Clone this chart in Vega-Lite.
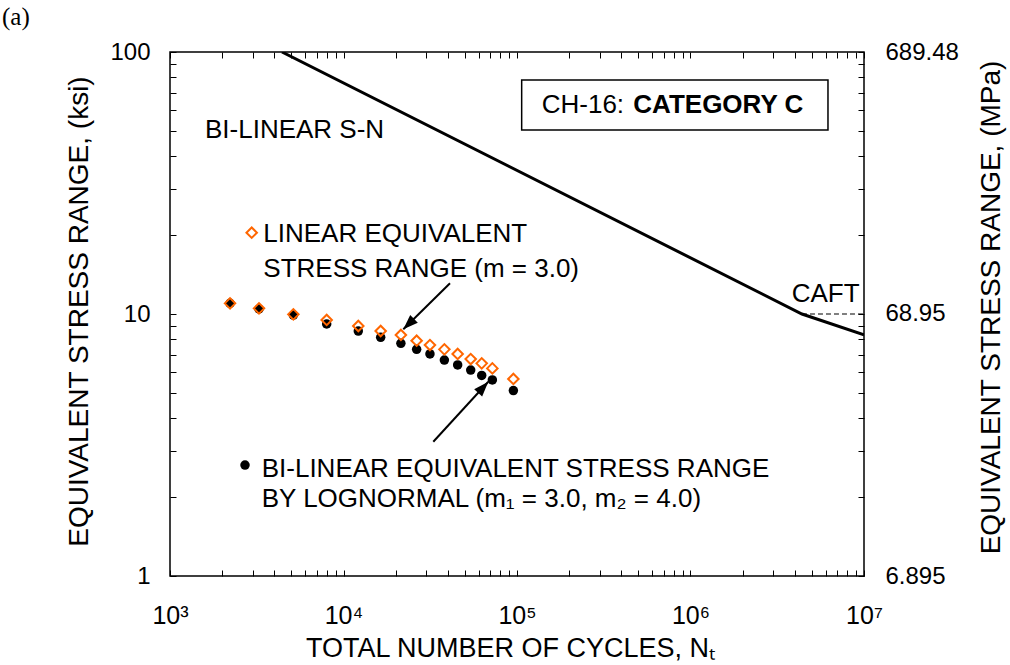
{
  "$schema": "https://vega.github.io/schema/vega-lite/v6.json",
  "autosize": {"type": "none"},
  "width": 694,
  "height": 524,
  "padding": {"left": 170, "top": 52, "right": 146, "bottom": 89},
  "background": "white",
  "config": {
    "view": {"stroke": "black", "strokeWidth": 1.5},
    "font": "Liberation Sans",
    "axis": {"grid": false, "domain": false, "tickColor": "black", "tickWidth": 1, "labelColor": "black", "titleColor": "black", "labelFont": "Liberation Sans", "titleFont": "Liberation Sans", "titleFontWeight": "normal", "labelFontSize": 24, "titleFontSize": 28}
  },
  "datasets": {
    "sn": [{"N": 4420, "S": 100}, {"N": 4390000, "S": 10}, {"N": 10000000, "S": 8.32}],
    "caft": [{"N": 4390000, "S": 10}, {"N": 10000000, "S": 10}],
    "linear": [
      {"N": 2218, "S": 10.98}, {"N": 3258, "S": 10.51}, {"N": 5140, "S": 9.97}, {"N": 8000, "S": 9.49},
      {"N": 12170, "S": 9.0}, {"N": 16380, "S": 8.61}, {"N": 21420, "S": 8.32}, {"N": 26400, "S": 7.91},
      {"N": 31500, "S": 7.61}, {"N": 38140, "S": 7.33}, {"N": 45500, "S": 7.04}, {"N": 54100, "S": 6.73},
      {"N": 62600, "S": 6.48}, {"N": 72100, "S": 6.2}, {"N": 95300, "S": 5.65}
    ],
    "bilinear": [
      {"N": 2218, "S": 10.98}, {"N": 3258, "S": 10.45}, {"N": 5140, "S": 9.91}, {"N": 8000, "S": 9.16},
      {"N": 12170, "S": 8.61}, {"N": 16380, "S": 8.15}, {"N": 21420, "S": 7.73}, {"N": 26400, "S": 7.33},
      {"N": 31500, "S": 7.04}, {"N": 38140, "S": 6.67}, {"N": 45500, "S": 6.39}, {"N": 54100, "S": 6.11},
      {"N": 62600, "S": 5.83}, {"N": 72100, "S": 5.6}, {"N": 95300, "S": 5.1}
    ],
    "notes": [
      {"N": 1591, "S": 50.4, "label": "BI-LINEAR S-N"},
      {"N": 3450, "S": 20.2, "label": "LINEAR EQUIVALENT"},
      {"N": 3450, "S": 14.85, "label": "STRESS RANGE (m = 3.0)"},
      {"N": 3377, "S": 2.561, "label": "BI-LINEAR EQUIVALENT STRESS RANGE"},
      {"N": 3377, "S": 1.967, "label": "BY LOGNORMAL (m₁ = 3.0, m₂ = 4.0)"},
      {"N": 3830000, "S": 11.96, "label": "CAFT"},
      {"N": 138800, "S": 62.8, "label": "CH-16:"}
    ],
    "bold": [{"N": 468000, "S": 62.8, "label": "CATEGORY C"}],
    "tag": [{"N": 107.6, "S": 136, "label": "(a)"}],
    "box": [{"N": 106400, "N2": 6200000, "S": 78.2, "S2": 50.4}],
    "arrows": [
      {"N": 41100, "S": 13.1, "N2": 22120, "S2": 8.74},
      {"N": 32930, "S": 3.255, "N2": 68320, "S2": 5.515}
    ],
    "key_linear": [{"N": 2957, "S": 20.43}],
    "key_bilinear": [{"N": 2706, "S": 2.652}],
    "head1": [{"N": 22120, "S": 8.74}],
    "head2": [{"N": 68320, "S": 5.515}],
    "mpa": [{"N": 1000, "MPa": 6.895}, {"N": 10000000, "MPa": 689.48}]
  },
  "layer": [
    {
      "encoding": {
        "x": {
          "field": "N", "type": "quantitative",
          "scale": {"type": "log", "domain": [1000, 10000000], "nice": false},
          "axis": {
            "orient": "bottom",
            "title": "TOTAL NUMBER OF CYCLES, Nₜ",
            "titleFontSize": 27,
            "titleX": 340,
            "titleY": 72,
            "titleAlign": "center",
            "titleBaseline": "middle",
            "values": [1000, 2000, 3000, 4000, 5000, 6000, 7000, 8000, 9000, 10000, 20000, 30000, 40000, 50000, 60000, 70000, 80000, 90000, 100000, 200000, 300000, 400000, 500000, 600000, 700000, 800000, 900000, 1000000, 2000000, 3000000, 4000000, 5000000, 6000000, 7000000, 8000000, 9000000, 10000000],
            "labelExpr": "datum.value == 1000 ? '10³' : datum.value == 10000 ? '10⁴' : datum.value == 100000 ? '10⁵' : datum.value == 1000000 ? '10⁶' : datum.value == 10000000 ? '10⁷' : ''",
            "labelFontSize": 25,
            "tickSize": -6,
            "labelPadding": 33,
            "labelFlush": false,
            "labelOverlap": false
          }
        },
        "y": {
          "field": "S", "type": "quantitative",
          "scale": {"type": "log", "domain": [1, 100], "nice": false},
          "axis": {
            "orient": "left",
            "title": "EQUIVALENT STRESS RANGE, (ksi)",
            "titleX": -91,
            "titleY": 259,
            "titleAlign": "center",
            "titleBaseline": "middle",
            "titleAngle": 270,
            "values": [1, 2, 3, 4, 5, 6, 7, 8, 9, 10, 20, 30, 40, 50, 60, 70, 80, 90, 100],
            "labelExpr": "datum.value == 1 ? '1' : datum.value == 10 ? '10' : datum.value == 100 ? '100' : ''",
            "tickSize": -6,
            "labelPadding": 26,
            "labelFlush": false,
            "labelOverlap": false
          }
        }
      },
      "layer": [
        {"data": {"name": "box"}, "mark": {"type": "rect", "fill": "white", "stroke": "black", "strokeWidth": 1.5}, "encoding": {"x2": {"field": "N2"}, "y2": {"field": "S2"}}},
        {"data": {"name": "sn"}, "mark": {"type": "line", "color": "black", "strokeWidth": 3, "clip": true}, "encoding": {}},
        {"data": {"name": "caft"}, "mark": {"type": "line", "color": "black", "strokeWidth": 1.2, "strokeDash": [5, 3]}, "encoding": {}},
        {"data": {"name": "bilinear"}, "mark": {"type": "point", "shape": "circle", "filled": true, "color": "black", "size": 90, "opacity": 1}},
        {"data": {"name": "linear"}, "mark": {"type": "point", "shape": "diamond", "filled": false, "color": "#ff6600", "strokeWidth": 2, "size": 110, "opacity": 1}},
        {"data": {"name": "key_bilinear"}, "mark": {"type": "point", "shape": "circle", "filled": true, "color": "black", "size": 90, "opacity": 1}},
        {"data": {"name": "key_linear"}, "mark": {"type": "point", "shape": "diamond", "filled": false, "color": "#ff6600", "strokeWidth": 2, "size": 110, "opacity": 1}},
        {"data": {"name": "arrows"}, "mark": {"type": "rule", "color": "black", "strokeWidth": 2}, "encoding": {"x2": {"field": "N2"}, "y2": {"field": "S2"}}},
        {"data": {"name": "head1"}, "mark": {"type": "point", "shape": "M0,0L0.36,1L-0.36,1Z", "filled": true, "color": "black", "size": 900, "angle": 225.4, "opacity": 1, "strokeWidth": 0}},
        {"data": {"name": "head2"}, "mark": {"type": "point", "shape": "M0,0L0.36,1L-0.36,1Z", "filled": true, "color": "black", "size": 900, "angle": 42.5, "opacity": 1, "strokeWidth": 0}},
        {"data": {"name": "notes"}, "mark": {"type": "text", "align": "left", "baseline": "middle", "fontSize": 26, "font": "Liberation Sans", "color": "black"}, "encoding": {"text": {"field": "label"}}},
        {"data": {"name": "bold"}, "mark": {"type": "text", "align": "left", "baseline": "middle", "fontSize": 26, "fontWeight": "bold", "font": "Liberation Sans", "color": "black"}, "encoding": {"text": {"field": "label"}}},
        {"data": {"name": "tag"}, "mark": {"type": "text", "align": "left", "baseline": "middle", "fontSize": 25, "font": "Liberation Serif", "color": "black", "clip": false}, "encoding": {"text": {"field": "label"}}}
      ]
    },
    {
      "data": {"name": "mpa"},
      "mark": {"type": "point", "opacity": 0},
      "encoding": {
        "x": {
          "field": "N", "type": "quantitative",
          "scale": {"type": "log", "domain": [1000, 10000000], "nice": false},
          "axis": {
            "orient": "top", "title": null, "labels": false,
            "values": [1000, 2000, 3000, 4000, 5000, 6000, 7000, 8000, 9000, 10000, 20000, 30000, 40000, 50000, 60000, 70000, 80000, 90000, 100000, 200000, 300000, 400000, 500000, 600000, 700000, 800000, 900000, 1000000, 2000000, 3000000, 4000000, 5000000, 6000000, 7000000, 8000000, 9000000, 10000000],
            "tickSize": -6
          }
        },
        "y": {
          "field": "MPa", "type": "quantitative",
          "scale": {"type": "log", "domain": [6.895, 689.48], "nice": false},
          "axis": {
            "orient": "right",
            "title": "EQUIVALENT STRESS RANGE, (MPa)",
            "titleX": 127,
            "titleY": 255,
            "titleAlign": "center",
            "titleBaseline": "middle",
            "titleAngle": 270,
            "values": [6.895, 13.79, 20.685, 27.58, 34.475, 41.37, 48.265, 55.16, 62.055, 68.95, 137.9, 206.85, 275.8, 344.75, 413.7, 482.65, 551.6, 620.55, 689.48],
            "labelExpr": "datum.value == 6.895 ? '6.895' : datum.value == 68.95 ? '68.95' : datum.value == 689.48 ? '689.48' : ''",
            "tickSize": -6,
            "labelPadding": 27,
            "labelFlush": false,
            "labelOverlap": false
          }
        }
      }
    }
  ],
  "resolve": {"scale": {"x": "independent", "y": "independent"}}
}
